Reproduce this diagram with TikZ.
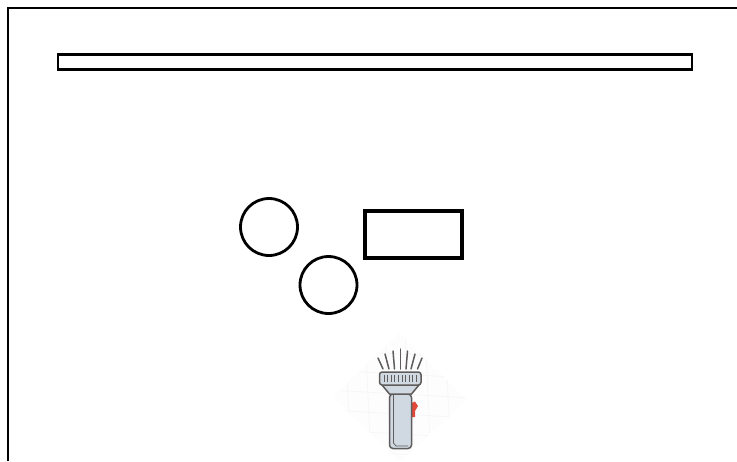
\documentclass[tikz,border=0pt]{standalone}
\usepackage{xcolor}
\usepackage{tikz}
\usetikzlibrary{arrows.meta,positioning,calc}
\definecolor{torchbody}{RGB}{208,217,225}
\definecolor{torchline}{RGB}{96,92,92}
\definecolor{torchred}{RGB}{226,72,58}
\definecolor{faintbg}{RGB}{253,253,253}
\definecolor{faintline}{RGB}{246,246,246}

\begin{document}
\begin{tikzpicture}[x=0.02cm, y=-0.02cm,
  framebox/.style={draw=black, line width=0.046cm},
  blockbox/.style={draw=black, line width=0.056cm, fill=white, inner sep=0pt},
  roundbox/.style={blockbox, circle, minimum size=1.14cm},
  torch/.style={draw=torchline, line width=0.03cm, line join=round}]
  \useasboundingbox (0,0) rectangle (737,461);
  \fill[white] (0,0) rectangle (737,461);

  % outer frame, open at the right and at the bottom
  \coordinate (fa) at (8,461);
  \coordinate (fb) at (8,8);
  \coordinate (fc) at (737,8);
  \draw[framebox] (fa) -- (fb) -- (fc);

  \node[blockbox, minimum width=12.68cm, minimum height=0.3cm] (bar) at (375,62) {};
  \node[roundbox] (c1) at (269,227) {};
  \node[roundbox] (c2) at (328.5,285) {};
  \node[blockbox, line width=0.062cm, minimum width=1.94cm, minimum height=0.94cm] (rect) at (413.5,234.5) {};

  % faint backdrop of the torch
  \fill[faintbg] (400,333) -- (467,400) -- (400,461) -- (333,397) -- cycle;
  \begin{scope}
    \clip (400,333) -- (467,400) -- (400,461) -- (333,397) -- cycle;
    \foreach \i in {345,365,...,465} \draw[faintline, line width=0.015cm] (\i,330) -- (\i+6,461);
    \foreach \j in {350,370,...,450} \draw[faintline, line width=0.015cm] (330,\j) -- (470,\j+8);
  \end{scope}

  % rays
  \foreach \xa/\ya/\xb/\yb in {378/358/383/369, 385/354/389/369, 393/351/394.5/369, 400.3/349/400.3/369,
                               407.5/351/406/369, 415/354/411/369, 422/358/417.5/369}
    \draw[torch, line cap=round] (\xa,\ya) -- (\xb,\yb);

  % switch
  \fill[torchred] (411.5,403) -- (415,401.5) -- (418,406) -- (415,411) -- (415,417) -- (411.5,417) -- cycle;

  % body and neck
  \draw[torch, fill=torchbody, rounded corners=2pt] (389.5,394) -- (389.5,448.5) -- (411.5,448.5) -- (411.5,394) -- cycle;
  \draw[torch, fill=torchbody] (382,385) -- (419,385) -- (411.5,394) -- (389.5,394) -- cycle;
  \draw[torchline, line width=0.015cm] (393.5,394) -- (393.5,443) -- (396,446) -- (408,446);

  % head with its ribs
  \draw[torch, fill=torchbody, rounded corners=1.5pt] (379.5,372) rectangle (421,385);
  \foreach \i in {384,387.6,...,418}
    \draw[torchline, line width=0.02cm] (\i,375) -- (\i,382);
\end{tikzpicture}
\end{document}
